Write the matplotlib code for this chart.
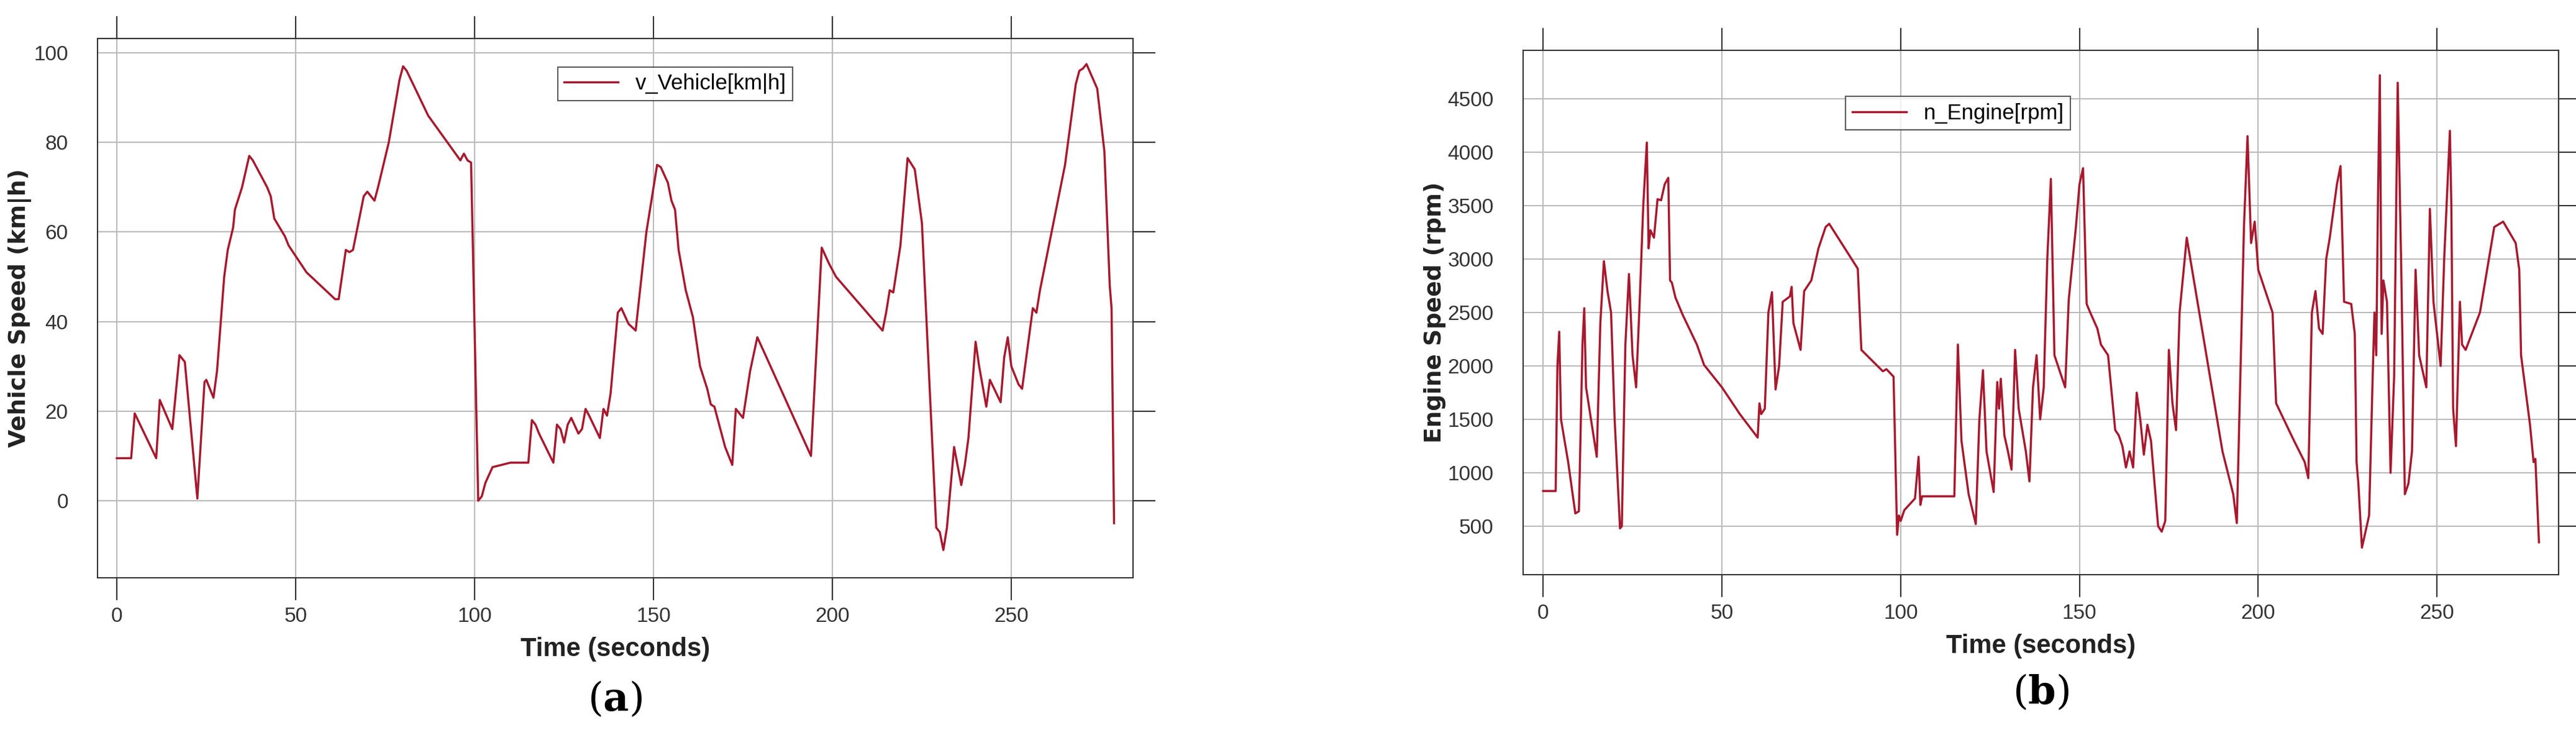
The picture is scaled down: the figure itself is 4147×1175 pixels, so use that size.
import matplotlib
matplotlib.use("Agg")
import matplotlib.pyplot as plt
import numpy as np
plt.rcParams['mathtext.fontset'] = 'dejavuserif'

speed_t = [0,4,5,11,12,15.5,17.5,19,22.5,24.5,25,27,28,30,31,32.5,33,35,37,38,42,43,44,47,48,53,61,62,64,65,66,69,70,72,73,76,79,80,81,87,96,97,98,99,101,102,103,105,110,115,116,117,118,122,123,124,125,126,127,129,130,131,132,135,136,137,138,140,141,143,145,148,151,152,154,155,156,157,159,161,163,165,166,167,170,172,173,175,177,179,181,194,197,199,201,214,215,216,217,219,221,223,225,229,230,231,232,234,236,237,238,240,241,243,244,247,248,249,250,252,253,256,257,258,265,268,269,270,271,274,276,277.5,278,278.7]
speed_v = [9.5,9.5,19.5,9.5,22.5,16,32.5,31,0.5,26.5,27,23,29,50,56,61,65,70,77,76,70,68,63,59,57,51,45,45,56,55.5,56,68,69,67,70,80,94,97,96,86,76,77.5,76,75.5,0,1,4,7.5,8.5,8.5,18,17,15,8.5,17,16,13,17,18.5,15,16,20.5,19,14,20.5,19,24,42,43,39.5,38,60,75,74.5,71,67,65,56,47,41,30,25,21.5,21,12,8,20.5,18.5,29,36.5,33,10,56.5,53,50,38,42,47,46.5,57,76.5,74,62,-6,-7,-11,-6,12,3.5,8,14,35.5,30,21,27,22,32,36.5,30,26,25,43,42,47,75,93,96,96.5,97.5,92,78,48,43,-5]

# engine speed samples (time s, rpm)
engine_points = [
    (0,830),(3.5,830),(4,2000),(4.5,2320),(5,1500),(7,1100),(9,620),(10,640),(11,2200),(11.5,2540),
    (12,1800),(15,1150),(16,2400),(17,2980),(18,2700),(19,2500),(20,1500),(21.5,480),(22,500),(23,2200),
    (24,2860),(25,2100),(26,1800),(27,2600),(28,3500),(29,4090),(29.5,3100),(30,3270),(31,3200),(32,3560),
    (33,3550),(34,3700),(35,3760),(35.5,2800),(36,2780),(37,2640),(39,2480),(43,2200),(45,2010),(50,1800),
    (55,1550),(60,1330),(60.5,1650),(61,1550),(62,1600),(63,2500),(64,2690),(65,1780),(66,2000),(67,2600),
    (69,2650),(69.5,2740),(70,2400),(72,2150),(73,2700),(75,2800),(77,3100),(79,3300),(80,3330),(88,2910),
    (89,2150),(95,1950),(96,1970),(98,1900),(99,420),(99.5,600),(100,550),(101,650),(104,760),(105,1150),
    (105.5,700),(106,780),(115,780),(116,2200),(117,1300),(119,800),(121,520),(122,1500),(123,1960),(124,1200),
    (126,820),(127,1850),(127.5,1600),(128,1880),(129,1350),(130,1200),(131,1030),(132,2150),(133,1600),(135,1200),
    (136,920),(137,1800),(138,2100),(139,1500),(140,1800),(141,3000),(142,3750),(143,2100),(144,2000),(146,1800),
    (147,2620),(149,3300),(150,3700),(151,3850),(152,2580),(153,2500),(155,2350),(156,2200),(158,2100),(160,1400),
    (161,1350),(162,1250),(163,1050),(164,1200),(165,1050),(166,1750),(167,1500),(168,1170),(169,1450),(170,1300),
    (172,500),(173,450),(174,550),(175,2150),(176,1650),(177,1400),(178,2500),(180,3200),(181,3000),(183,2600),
    (186,2000),(190,1200),(193,800),(194,530),(196,3300),(197,4150),(198,3150),(199,3350),(200,2900),(202,2700),
    (204,2500),(205,1650),(210,1300),(213,1100),(214,950),(215,2500),(216,2700),(217,2350),(218,2300),(219,3000),
    (220,3200),(222,3700),(223,3870),(224,2600),(226,2580),(227,2300),(227.5,1100),(228,900),(229,300),(230,450),
    (231,600),(232,1900),(232.5,2500),(233,2100),(233.5,3600),(234,4720),(234.5,2300),(235,2800),(236,2600),(237,1000),
    (238,1900),(239,4650),(240,2900),(241,800),(242,900),(243,1200),(244,2900),(245,2100),(247,1800),(248,3470),
    (249,2600),(250,2300),(251,2000),(252,3000),(253.6,4200),(254,3500),(254.5,1600),(255.3,1250),(256.4,2600),(257,2200),
    (258,2150),(262,2500),(266,3300),(268.5,3350),(272,3150),(273,2900),(273.5,2100),(276,1450),(277,1100),(277.5,1130),
    (278.5,350),
]
eng_t = [p[0] for p in engine_points]
eng_v = [p[1] for p in engine_points]

xticks = [0,50,100,150,200,250]
speed_ticks = [0,20,40,60,80,100]
eng_ticks = [500,1000,1500,2000,2500,3000,3500,4000,4500]
color = "#A6192E"
tickfont = ["Liberation Sans Narrow", "Liberation Sans", "DejaVu Sans"]

fig = plt.figure(figsize=(41.47, 11.75), dpi=100)
W, H = 4147, 1175
def mkax(l, r, t, b):
    return fig.add_axes([l/W, 1-b/H, (r-l)/W, (b-t)/H])
ax1 = mkax(157, 1824, 62, 930)
ax2 = mkax(2452, 4119, 81, 925)

def style(ax, t, v, yt, xlim, ylim, ylabel, leg, legloc, sub):
    ax.plot(t, v, color=color, lw=2.5, label=leg)
    ax.set_xlim(*xlim); ax.set_ylim(*ylim)
    ax.set_xticks(xticks); ax.set_yticks(yt)
    ax.grid(True, color="#BBBBBB", lw=1.5)
    ax.tick_params(axis="both", direction="out", length=26, width=1.5, labelsize=24,
                   top=True, right=True, left=False, color="#333333")
    ax.tick_params(axis="y", pad=8)
    ax.tick_params(axis="x", pad=8)
    for lb in ax.get_xticklabels() + ax.get_yticklabels():
        lb.set_family(tickfont); lb.set_color("#333333")
    for s in ax.spines.values():
        s.set_color("#333333"); s.set_linewidth(1.5)
    ax.set_xlabel("Time (seconds)", fontsize=30, family=tickfont, fontweight="bold", color="#222222", labelpad=12)
    ax.set_ylabel(ylabel, fontsize=27, fontweight="bold", color="#222222", labelpad=2)
    lg = ax.legend(loc="center", bbox_to_anchor=legloc, frameon=True, fancybox=False,
                   edgecolor="#333333", handlelength=2.5, borderpad=0.3, prop={"family": tickfont, "size": 25})
    lg.get_frame().set_linewidth(1.5)
    ax.text(0.5, -0.225, sub, transform=ax.transAxes, ha="center", va="center", fontsize=46, family="DejaVu Serif")

style(ax1, speed_t, speed_v, speed_ticks, (-5.4, 284), (-17.2, 103.2), "Vehicle Speed (km|h)",
      "v_Vehicle[km|h]", (0.558, 0.916), r"($\mathbf{a}$)")
style(ax2, eng_t, eng_v, eng_ticks, (-5.6, 284), (47, 4953), "Engine Speed (rpm)",
      "n_Engine[rpm]", (0.42, 0.88), r"($\mathbf{b}$)")

fig.savefig("out.png", dpi=100)
